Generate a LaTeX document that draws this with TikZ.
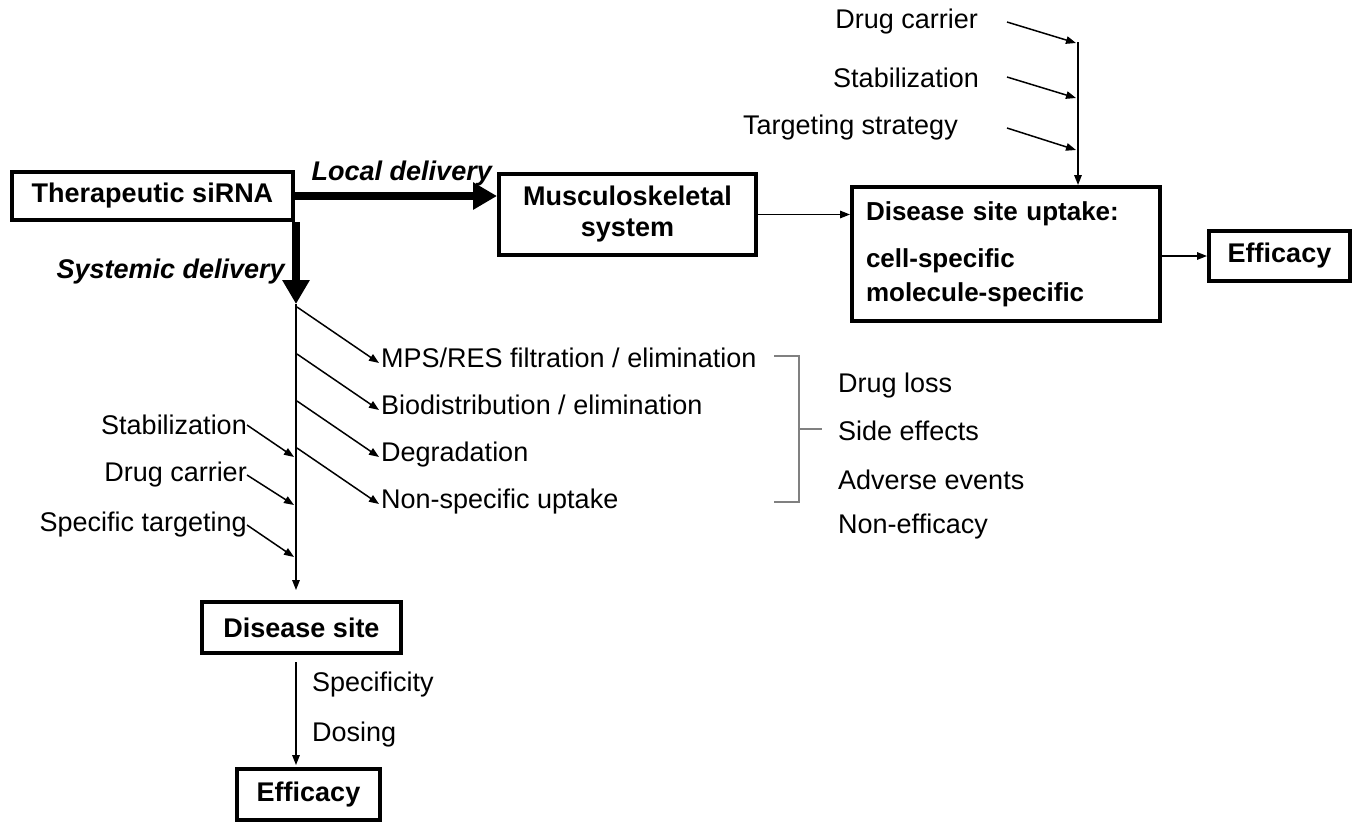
\documentclass[tikz,border=0pt]{standalone}
\usepackage{fontspec}
\setmainfont{Liberation Sans}
\usetikzlibrary{arrows.meta}

\begin{document}
\begin{tikzpicture}[x=1pt, y=-1pt, >={Triangle[length=10pt,width=7.5pt]},
  box/.style={draw, line width=4pt, inner sep=0pt, align=center,
    font=\fontsize{27}{31}\selectfont\bfseries},
  lbl/.style={inner sep=0pt, font=\fontsize{27}{31}\selectfont},
  link/.style={line width=1.5pt},
  fat/.style={line width=8pt, -{Triangle[length=24pt,width=26pt]}}]
  \useasboundingbox (0,0) rectangle (1360,823);
  % boxes
  \node[box, minimum width=281pt, minimum height=48pt] (sirna) at (152.5,196) {Therapeutic siRNA};
  \node[box, minimum width=257pt, minimum height=81pt] (musc) at (627.5,214.5) {Musculoskeletal\\system};
  \node[box, minimum width=308pt, minimum height=134pt, text width=280pt, align=left,
        font=\fontsize{26}{34}\selectfont\bfseries] (uptake) at (1006,254)
        {Disease site uptake:\\[13pt]cell-specific\\molecule-specific};
  \node[box, minimum width=141pt, minimum height=50pt] (effA) at (1279.5,256) {Efficacy};
  \node[box, minimum width=199pt, minimum height=51pt] (site) at (301.5,627.5) {Disease site};
  \node[box, minimum width=143pt, minimum height=51pt] (effB) at (308.5,794.5) {Efficacy};
  % delivery routes
  \node[lbl, anchor=base east, font=\fontsize{27}{31}\selectfont\bfseries\itshape] (local) at (492,180) {Local delivery};
  \node[lbl, anchor=base east, font=\fontsize{27}{31}\selectfont\bfseries\itshape] (syst) at (285,278) {Systemic delivery};
  \draw[fat] (sirna.east) -- (sirna.east -| musc.west);
  \coordinate (sys) at (296,304);
  \draw[fat] (sirna.south -| sys) -- (sys);
  \draw[link,->] (musc.east) -- (musc.east -| uptake.west);
  \draw[link,->] (uptake.east |- effA.west) -- (effA.west);
  % local route inputs
  \node[lbl, anchor=east] (carrierT) at (978,22) {Drug carrier};
  \node[lbl, anchor=east] (stabT) at (979,78) {Stabilization};
  \node[lbl, anchor=east] (targT) at (958,128) {Targeting strategy};
  \coordinate (top) at (1078,42);
  \coordinate (inA) at (1007,22);
  \coordinate (inB) at (1007,77);
  \coordinate (inC) at (1007,128);
  \draw[link,->] (inA) -- (1076,43);
  \draw[link,->] (inB) -- (1076,98);
  \draw[link,->] (inC) -- (1076,150);
  \draw[link,->] (top) -- (top |- uptake.north);
  % systemic route
  \draw[link,->, shorten >=10pt] (sys) -- (sys |- site.north);
  \node[lbl, anchor=base west] (mps) at (381,367) {MPS/RES filtration / elimination};
  \node[lbl, anchor=base west] (biod) at (381,414) {Biodistribution / elimination};
  \node[lbl, anchor=base west] (degr) at (381,461) {Degradation};
  \node[lbl, anchor=base west] (nonsp) at (381,508) {Non-specific uptake};
  \coordinate (outA) at (297,307);
  \coordinate (outB) at (297,354);
  \coordinate (outC) at (297,401);
  \coordinate (outD) at (297,448);
  \draw[link,->] (outA) -- ([shift={(-2,-4)}]mps.base west);
  \draw[link,->] (outB) -- ([shift={(-2,-4)}]biod.base west);
  \draw[link,->] (outC) -- ([shift={(-2,-4)}]degr.base west);
  \draw[link,->] (outD) -- ([shift={(-2,-4)}]nonsp.base west);
  \node[lbl, anchor=east] (stabS) at (247,425) {Stabilization};
  \node[lbl, anchor=east] (carrierS) at (247,475) {Drug carrier};
  \node[lbl, anchor=east] (targS) at (247,525) {Specific targeting};
  \draw[link,->] (stabS.east) -- (294,457);
  \draw[link,->] (carrierS.east) -- (294,505);
  \draw[link,->] (targS.east) -- (294,557);
  % consequences
  \draw[link, gray] (774,356) -- (799,356) -- (799,502) -- (774,502);
  \draw[link, gray] (799,429) -- (822,429);
  \node[lbl, anchor=west] (lossA) at (838,386) {Drug loss};
  \node[lbl, anchor=west] (lossB) at (838,431) {Side effects};
  \node[lbl, anchor=west] (lossC) at (838,480) {Adverse events};
  \node[lbl, anchor=west] (lossD) at (838,527) {Non-efficacy};
  % disease site to efficacy
  \draw[link,->, shorten <=7pt, shorten >=2pt] (site.south -| sys) -- (sys |- effB.north);
  \node[lbl, anchor=west] (spec) at (312,685) {Specificity};
  \node[lbl, anchor=west] (dose) at (312,735) {Dosing};
\end{tikzpicture}
\end{document}
